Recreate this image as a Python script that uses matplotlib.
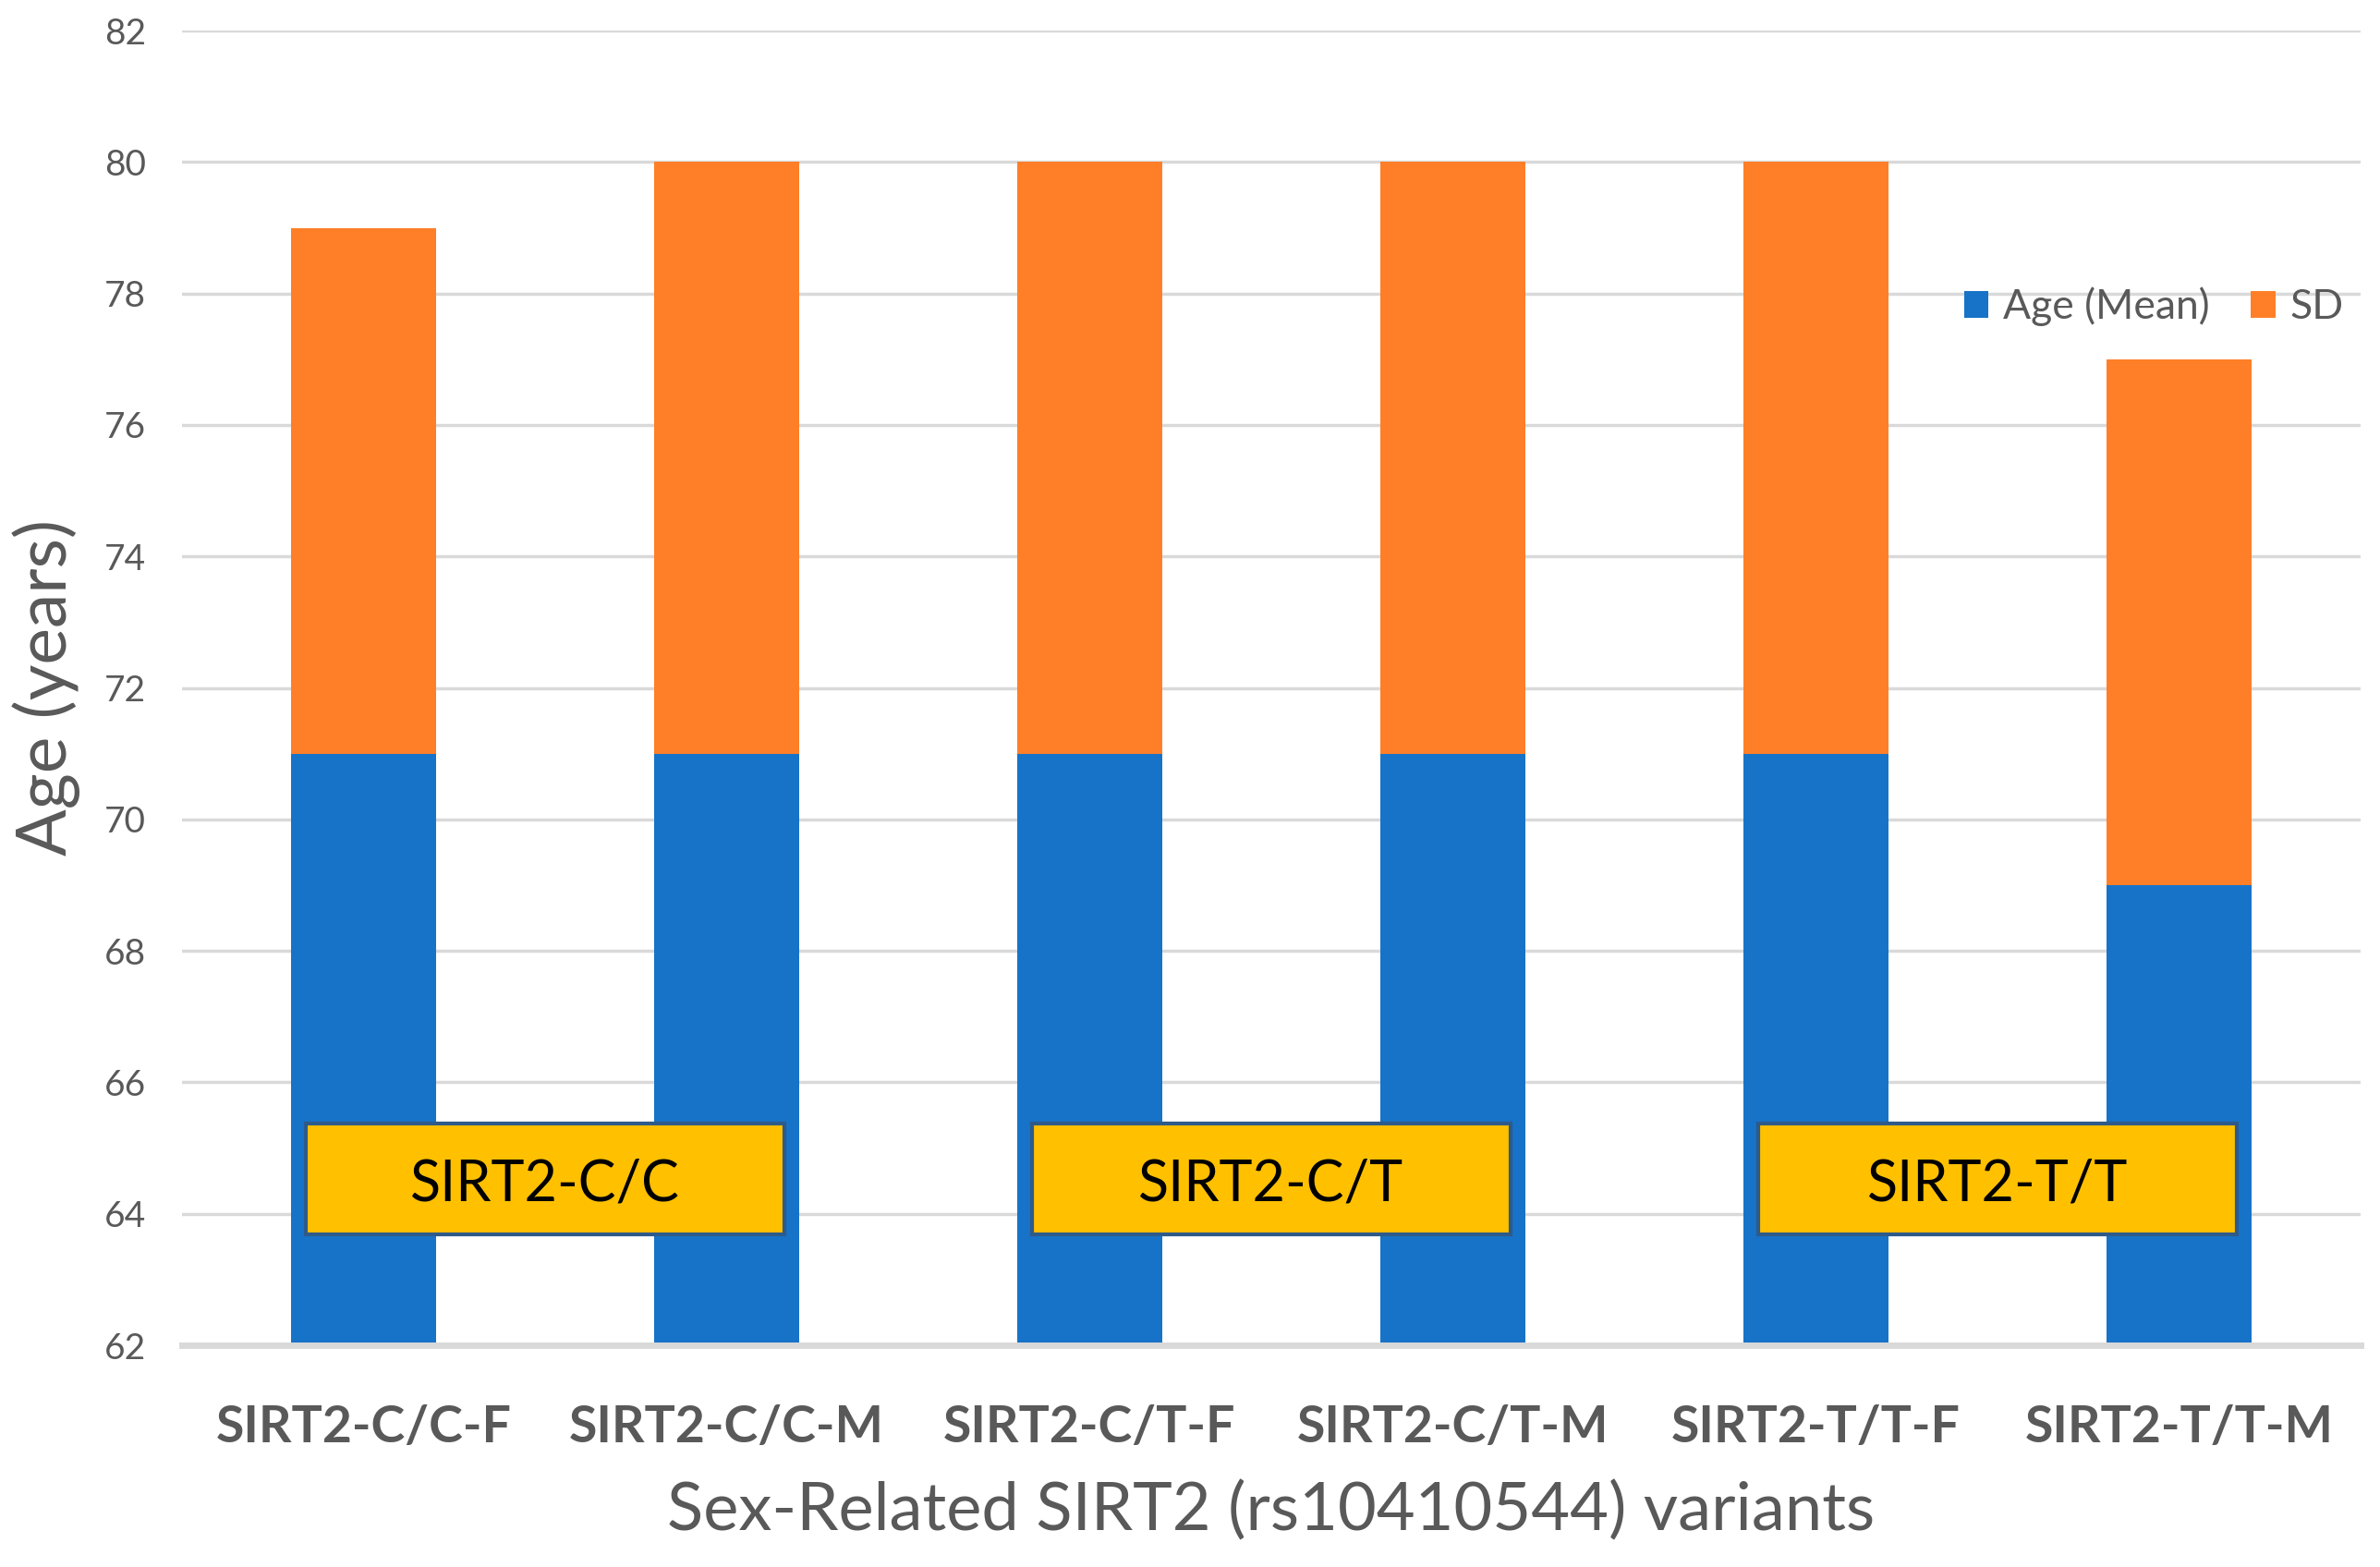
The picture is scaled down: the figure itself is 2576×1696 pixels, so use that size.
import matplotlib
matplotlib.use("Agg")
import matplotlib.pyplot as plt
from matplotlib.patches import Rectangle
import numpy as np

categories = ["SIRT2-C/C-F", "SIRT2-C/C-M", "SIRT2-C/T-F", "SIRT2-C/T-M", "SIRT2-T/T-F", "SIRT2-T/T-M"]
age_mean = [71, 71, 71, 71, 71, 69]
sd = [8, 9, 9, 9, 9, 8]
group_labels = ["SIRT2-C/C", "SIRT2-C/T", "SIRT2-T/T"]
yticks = [62, 64, 66, 68, 70, 72, 74, 76, 78, 80, 82]

FONT = ["Lato", "DejaVu Sans"]
plt.rcParams["font.family"] = FONT
GRAY = "#595959"
BLUE = "#1773C8"
ORANGE = "#FE7F28"

fig = plt.figure(figsize=(25.76, 16.96), dpi=100)
ax = fig.add_axes([0.0765, 0.1415, 0.9153, 0.839])

x = np.arange(len(categories))
ax.bar(x, age_mean, width=0.40, color=BLUE, label="Age (Mean)", zorder=2)
ax.bar(x, sd, width=0.40, bottom=age_mean, color=ORANGE, label="SD", zorder=2)

ax.set_xlim(-0.5, len(categories) - 0.5)
ax.set_ylim(62, 82)
ax.set_yticks(yticks)
ax.set_yticklabels([str(v) for v in yticks], fontsize=28, color=GRAY)
ax.set_xticks(x)
ax.set_xticklabels(categories, fontsize=40, fontweight="bold", color=GRAY)
ax.tick_params(axis="both", length=0)
ax.tick_params(axis="y", pad=28)
ax.tick_params(axis="x", pad=46)

ax.yaxis.grid(True, color="#D9D9D9", linewidth=2.5, zorder=0)
ax.set_axisbelow(True)
for s in ["top", "right", "left"]:
    ax.spines[s].set_visible(False)
ax.spines["bottom"].set_color("#D9D9D9")
ax.spines["bottom"].set_linewidth(5)
ax.spines["bottom"].set_zorder(3)

# group boxes
for i, lab in enumerate(group_labels):
    cx = 2 * i + 0.5
    rect = Rectangle((cx - 0.66, 63.68), 1.32, 1.70, facecolor="#FFC000",
                     edgecolor="#2E5A8A", linewidth=3, zorder=4)
    ax.add_patch(rect)
    ax.text(cx, 64.45, lab, ha="center", va="center", fontsize=44,
            color="black", zorder=5)

fig.text(0.0195, 0.5612, "Age (years)", rotation=90, ha="center", va="center",
         fontsize=54, color=GRAY)
fig.text(0.534, 0.036, "Sex-Related SIRT2 (rs10410544) variants", ha="center",
         va="center", fontsize=52, color=GRAY)

leg = ax.legend(loc="center", bbox_to_anchor=(0.905, 0.790), ncol=2, frameon=False,
                fontsize=32, handlelength=0.6, handleheight=0.6, handletextpad=0.35,
                columnspacing=1.0, bbox_transform=ax.transAxes)
for t in leg.get_texts():
    t.set_color(GRAY)

fig.savefig("out.png", dpi=100, facecolor="white")
